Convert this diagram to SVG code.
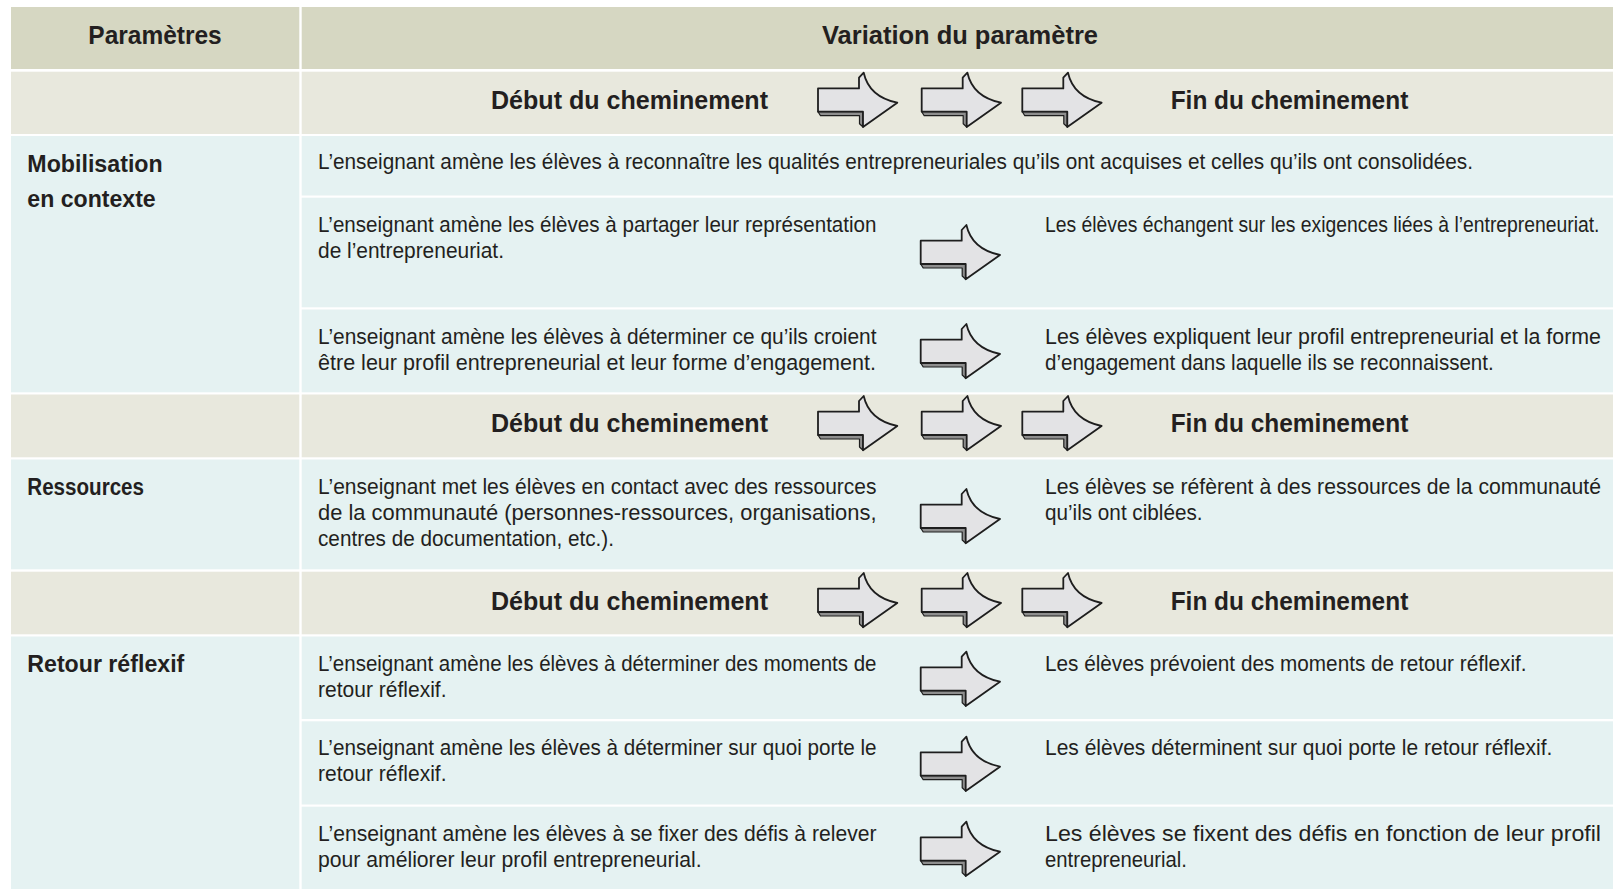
<svg xmlns="http://www.w3.org/2000/svg" xmlns:xlink="http://www.w3.org/1999/xlink" width="1613" height="889" viewBox="0 0 1613 889">
<style>
.hd{fill:#d6d7c2}
.sb{fill:#e8e8dd}
.bd{fill:#e5f2f2}
text{font-family:"Liberation Sans",Arial,sans-serif;fill:#231f20}
.h{font-size:25px;font-weight:bold}
.l{font-size:23.5px;font-weight:bold}
.t{font-size:22px}
.af{fill:#e3e3e5;stroke:#1e1e1e;stroke-width:1.8;stroke-linejoin:round}
.as{fill:#8e8e8e;stroke:#1e1e1e;stroke-width:1.2;stroke-linejoin:round}
</style>
<defs>
<g id="arr">
<path class="as" d="M0,9 H45 V24.3 L41.5,21 V13 H2.5 Z"/>
<path class="af" d="M0,-14.3 H41 V-25 L45.7,-30 Q51,-6 79.3,0 L45,24.3 V9 H0 Z"/>
</g>
</defs>
<rect width="1613" height="889" fill="#ffffff"/>

<g id="header">
<rect class="hd" x="11" y="7" width="288.3" height="62"/>
<rect class="hd" x="301.7" y="7" width="1311.3" height="62"/>
<text class="h" x="88.3" y="43.5" textLength="133.4" lengthAdjust="spacingAndGlyphs">Paramètres</text>
<text class="h" x="822" y="43.5" textLength="276" lengthAdjust="spacingAndGlyphs">Variation du paramètre</text>
</g>

<g id="debut-1">
<rect class="sb" x="11" y="71.7" width="288.3" height="62.3"/>
<rect class="sb" x="301.7" y="71.7" width="1311.3" height="62.3"/>
<text class="h" x="491" y="109" textLength="277" lengthAdjust="spacingAndGlyphs">Début du cheminement</text>
<text class="h" x="1170.7" y="109" textLength="237.6" lengthAdjust="spacingAndGlyphs">Fin du cheminement</text>
</g>

<g id="mobilisation">
<rect class="bd" x="11" y="136" width="288.3" height="256.3"/>
<rect class="bd" x="301.7" y="136" width="1311.3" height="59.5"/>
<rect class="bd" x="301.7" y="197.7" width="1311.3" height="109.6"/>
<rect class="bd" x="301.7" y="309.5" width="1311.3" height="82.8"/>
<text class="l" x="27.3" y="171.7" textLength="135.4" lengthAdjust="spacingAndGlyphs">Mobilisation</text>
<text class="l" x="27.3" y="206.7" textLength="128.4" lengthAdjust="spacingAndGlyphs">en contexte</text>
<text class="t" x="318" y="168.5" textLength="1155" lengthAdjust="spacingAndGlyphs">L’enseignant amène les élèves à reconnaître les qualités entrepreneuriales qu’ils ont acquises et celles qu’ils ont consolidées.</text>
<text class="t" x="318" y="231.7" textLength="558.5" lengthAdjust="spacingAndGlyphs">L’enseignant amène les élèves à partager leur représentation</text>
<text class="t" x="318" y="257.7" textLength="186" lengthAdjust="spacingAndGlyphs">de l’entrepreneuriat.</text>
<text class="t" x="1045" y="231.7" textLength="554.5" lengthAdjust="spacingAndGlyphs">Les élèves échangent sur les exigences liées à l’entrepreneuriat.</text>
<text class="t" x="318" y="343.5" textLength="558.5" lengthAdjust="spacingAndGlyphs">L’enseignant amène les élèves à déterminer ce qu’ils croient</text>
<text class="t" x="318" y="369.5" textLength="558" lengthAdjust="spacingAndGlyphs">être leur profil entrepreneurial et leur forme d’engagement.</text>
<text class="t" x="1045" y="343.5" textLength="556" lengthAdjust="spacingAndGlyphs">Les élèves expliquent leur profil entrepreneurial et la forme</text>
<text class="t" x="1045" y="369.5" textLength="448.7" lengthAdjust="spacingAndGlyphs">d’engagement dans laquelle ils se reconnaissent.</text>
</g>

<g id="debut-2">
<rect class="sb" x="11" y="394.5" width="288.3" height="62.8"/>
<rect class="sb" x="301.7" y="394.5" width="1311.3" height="62.8"/>
<text class="h" x="491" y="432.3" textLength="277" lengthAdjust="spacingAndGlyphs">Début du cheminement</text>
<text class="h" x="1170.7" y="432.3" textLength="237.6" lengthAdjust="spacingAndGlyphs">Fin du cheminement</text>
</g>

<g id="ressources">
<rect class="bd" x="11" y="459.5" width="288.3" height="109.8"/>
<rect class="bd" x="301.7" y="459.5" width="1311.3" height="109.8"/>
<text class="l" x="27.3" y="495.2" textLength="116.7" lengthAdjust="spacingAndGlyphs">Ressources</text>
<text class="t" x="318" y="493.5" textLength="558.5" lengthAdjust="spacingAndGlyphs">L’enseignant met les élèves en contact avec des ressources</text>
<text class="t" x="318" y="519.5" textLength="558.5" lengthAdjust="spacingAndGlyphs">de la communauté (personnes-ressources, organisations,</text>
<text class="t" x="318" y="545.5" textLength="296" lengthAdjust="spacingAndGlyphs">centres de documentation, etc.).</text>
<text class="t" x="1045" y="493.5" textLength="556" lengthAdjust="spacingAndGlyphs">Les élèves se réfèrent à des ressources de la communauté</text>
<text class="t" x="1045" y="519.5" textLength="157.5" lengthAdjust="spacingAndGlyphs">qu’ils ont ciblées.</text>
</g>

<g id="debut-3">
<rect class="sb" x="11" y="571.7" width="288.3" height="62.6"/>
<rect class="sb" x="301.7" y="571.7" width="1311.3" height="62.6"/>
<text class="h" x="491" y="609.5" textLength="277" lengthAdjust="spacingAndGlyphs">Début du cheminement</text>
<text class="h" x="1170.7" y="609.5" textLength="237.6" lengthAdjust="spacingAndGlyphs">Fin du cheminement</text>
</g>

<g id="retour-reflexif">
<rect class="bd" x="11" y="636.5" width="288.3" height="252.5"/>
<rect class="bd" x="301.7" y="636.5" width="1311.3" height="82.5"/>
<rect class="bd" x="301.7" y="721.3" width="1311.3" height="83.2"/>
<rect class="bd" x="301.7" y="806.7" width="1311.3" height="82.3"/>
<text class="l" x="27.3" y="671.7" textLength="157" lengthAdjust="spacingAndGlyphs">Retour réflexif</text>
<text class="t" x="318" y="670.5" textLength="558.5" lengthAdjust="spacingAndGlyphs">L’enseignant amène les élèves à déterminer des moments de</text>
<text class="t" x="318" y="696.5" textLength="128.5" lengthAdjust="spacingAndGlyphs">retour réflexif.</text>
<text class="t" x="1045" y="670.5" textLength="481.6" lengthAdjust="spacingAndGlyphs">Les élèves prévoient des moments de retour réflexif.</text>
<text class="t" x="318" y="755.3" textLength="558.5" lengthAdjust="spacingAndGlyphs">L’enseignant amène les élèves à déterminer sur quoi porte le</text>
<text class="t" x="318" y="781.3" textLength="128.5" lengthAdjust="spacingAndGlyphs">retour réflexif.</text>
<text class="t" x="1045" y="755.3" textLength="507.3" lengthAdjust="spacingAndGlyphs">Les élèves déterminent sur quoi porte le retour réflexif.</text>
<text class="t" x="318" y="840.7" textLength="558.5" lengthAdjust="spacingAndGlyphs">L’enseignant amène les élèves à se fixer des défis à relever</text>
<text class="t" x="318" y="866.7" textLength="383.6" lengthAdjust="spacingAndGlyphs">pour améliorer leur profil entrepreneurial.</text>
<text class="t" x="1045" y="840.7" textLength="556" lengthAdjust="spacingAndGlyphs">Les élèves se fixent des défis en fonction de leur profil</text>
<text class="t" x="1045" y="866.7" textLength="142" lengthAdjust="spacingAndGlyphs">entrepreneurial.</text>
</g>

<g id="arrows">
<use xlink:href="#arr" x="818" y="102.7"/>
<use xlink:href="#arr" x="921.7" y="102.7"/>
<use xlink:href="#arr" x="1022.3" y="102.7"/>
<use xlink:href="#arr" x="818" y="426"/>
<use xlink:href="#arr" x="921.7" y="426"/>
<use xlink:href="#arr" x="1022.3" y="426"/>
<use xlink:href="#arr" x="818" y="603"/>
<use xlink:href="#arr" x="921.7" y="603"/>
<use xlink:href="#arr" x="1022.3" y="603"/>
<use xlink:href="#arr" x="920.7" y="255"/>
<use xlink:href="#arr" x="920.7" y="354"/>
<use xlink:href="#arr" x="920.7" y="519"/>
<use xlink:href="#arr" x="920.7" y="681.7"/>
<use xlink:href="#arr" x="920.7" y="766.7"/>
<use xlink:href="#arr" x="920.7" y="851.7"/>
</g>
</svg>
